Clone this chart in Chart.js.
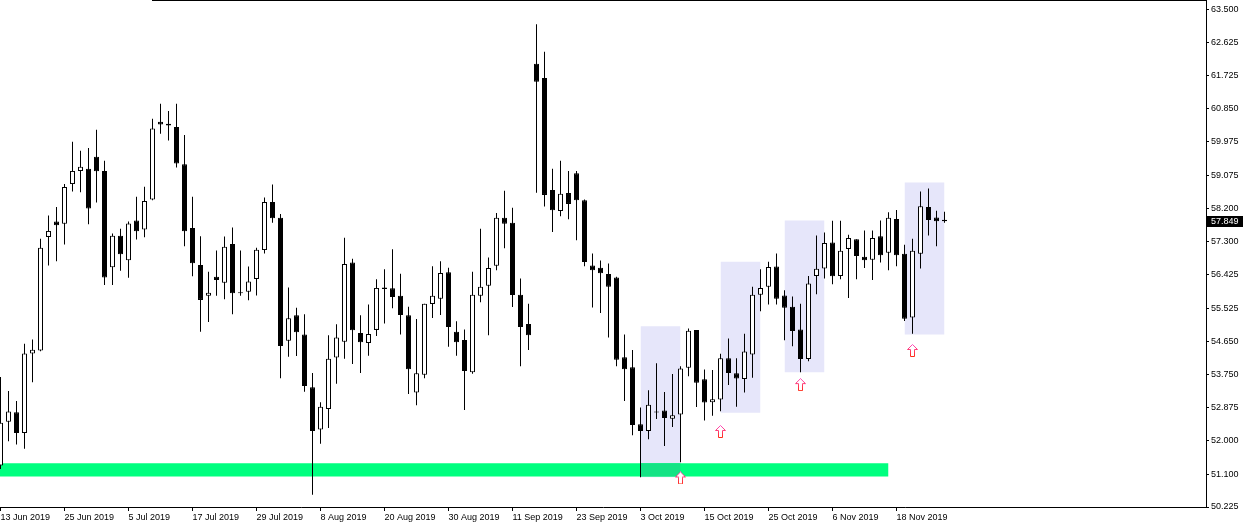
<!DOCTYPE html>
<html><head><meta charset="utf-8">
<script src="https://cdn.jsdelivr.net/npm/chart.js@4.4.1/dist/chart.umd.min.js"></script>
<style>html,body{margin:0;padding:0;background:#fff;overflow:hidden}#wrap{width:1249px;height:528px;position:relative}</style>
</head><body><div id="wrap"><canvas id="c" width="1249" height="528"></canvas></div>
<script>
// ---- daily OHLC ----
const open = [51.33,52.50,52.75,52.20,54.32,54.40,57.43,57.84,57.78,58.84,59.19,59.25,59.57,59.19,56.62,57.46,56.81,57.87,57.63,58.43,
60.50,60.45,60.36,59.37,57.67,56.68,55.86,56.37,56.21,57.24,55.955,55.97,56.31,57.08,58.36,57.94,54.66,55.34,54.83,53.42,
52.29,52.84,54.21,54.63,56.75,54.87,54.60,54.95,56.08,56.06,55.86,55.34,53.28,53.75,55.64,55.78,56.49,54.90,54.68,53.82,
55.86,56.13,56.66,57.94,57.81,55.89,55.11,62.05,61.67,58.68,58.12,58.60,59.13,58.41,56.67,56.61,56.44,56.35,54.22,53.95,
52.43,52.25,52.775,52.80,52.58,52.69,53.94,54.95,53.63,53.02,53.09,54.19,53.79,53.64,54.29,55.89,56.10,56.64,55.87,55.57,
54.96,54.17,56.39,56.59,57.28,56.39,57.11,57.37,56.90,56.82,57.45,57.01,57.91,56.98,55.28,56.98,58.23,57.95,57.89];
const high = [53.69,53.32,53.05,54.58,54.69,57.38,58.00,58.23,58.84,59.97,59.73,59.80,60.29,59.46,57.52,57.65,57.84,58.50,58.77,60.58,
60.98,60.79,60.98,60.15,58.50,57.45,56.50,57.07,57.44,57.68,57.07,56.64,57.14,58.48,58.83,58.04,56.08,55.54,55.37,53.80,
53.02,54.81,55.10,57.41,56.85,55.34,55.63,56.30,56.57,57.10,56.45,55.57,55.24,55.65,56.65,56.78,56.61,55.18,54.96,56.50,
57.65,56.88,58.07,58.66,58.21,56.32,55.65,63.10,62.37,59.25,59.46,59.19,59.19,58.43,56.99,56.80,56.72,56.37,54.83,54.41,
52.88,53.34,54.06,53.29,53.77,53.98,54.99,54.95,53.89,53.88,54.31,54.72,54.19,54.85,56.10,56.57,56.77,56.99,56.01,55.84,
55.65,56.39,57.47,57.55,57.86,57.86,57.49,57.37,57.60,57.60,57.87,58.09,58.15,57.22,57.38,58.64,58.72,58.13,58.10];
const low = [51.24,51.98,51.89,51.78,53.55,54.38,56.67,56.78,57.23,58.64,58.62,57.77,58.35,56.15,56.15,56.53,56.34,57.36,57.42,58.41,
60.18,60.00,59.28,57.18,56.38,54.90,55.16,55.86,55.77,55.37,55.86,55.74,55.87,56.99,57.81,53.66,54.23,54.25,53.30,50.55,
51.91,52.33,53.51,54.18,54.04,53.80,54.26,54.79,55.12,55.53,54.83,53.24,52.94,53.66,55.27,55.35,54.50,54.26,52.81,53.78,
55.69,54.81,56.54,57.13,55.56,53.98,54.41,58.61,58.24,57.56,57.98,57.90,57.34,56.65,55.55,55.40,54.75,53.98,53.05,52.14,
51.02,52.03,52.57,51.85,52.36,51.42,53.71,52.89,52.53,52.66,52.78,53.48,52.90,53.28,53.67,55.45,55.63,55.63,54.67,54.51,
53.82,54.11,55.90,56.32,56.17,56.30,55.80,56.30,56.60,56.28,56.75,56.54,56.65,55.19,54.85,56.59,57.47,57.18,57.81];
const close = [52.47,52.77,52.20,54.32,54.42,57.14,57.59,57.74,58.76,59.19,59.30,58.19,59.18,56.35,57.46,56.97,57.79,57.58,58.39,60.32,
60.43,60.40,59.39,57.58,56.73,55.75,55.94,56.28,57.17,55.93,55.925,56.24,57.09,58.36,57.93,54.52,55.26,54.89,53.45,52.25,
52.90,54.18,54.75,56.71,54.94,54.62,54.84,56.07,56.04,55.83,55.35,53.90,53.79,55.65,55.86,56.47,55.03,54.62,53.85,55.89,
56.10,56.60,57.94,57.78,55.88,55.03,54.81,61.57,58.55,58.14,58.58,58.31,58.41,56.76,56.54,56.46,56.10,54.15,53.90,52.41,
52.25,52.95,52.745,52.60,52.67,53.92,54.93,53.54,53.01,53.10,54.19,53.80,53.65,54.37,55.89,56.07,56.63,55.78,55.54,54.92,
54.17,56.19,56.58,57.27,56.38,57.06,57.40,56.92,56.81,57.40,56.94,57.94,56.94,55.25,57.06,58.25,57.88,57.85,57.849];

// ---- categories / tick labels ----
const firstDay = '2019-06-13';
const xTickLabels = ['13 Jun 2019','25 Jun 2019','5 Jul 2019','17 Jul 2019','29 Jul 2019','8 Aug 2019','20 Aug 2019',
  '30 Aug 2019','11 Sep 2019','23 Sep 2019','3 Oct 2019','15 Oct 2019','25 Oct 2019','6 Nov 2019','18 Nov 2019'];
const yTicks = [63.5,62.625,61.725,60.85,59.975,59.075,58.2,57.3,56.425,55.525,54.65,53.75,52.875,52.0,51.1,50.225];

// ---- drawn objects ----
const zoneStart = [80, 90, 98, 113];
const zoneEnd = [85, 95, 103, 118];
const zoneTop = [55.05, 56.77, 57.87, 58.88];
const zoneBottom = [51.02, 52.74, 53.82, 54.83];
const bandStart = -1, bandEnd = 111, bandTop = 51.39, bandBottom = 51.04;
const arrowAt = [85, 90, 100, 114];
const arrowPrice = [51.00, 52.24, 53.49, 54.40];

// trading days (weekdays) for the candles
const MONTHS = ['Jan','Feb','Mar','Apr','May','Jun','Jul','Aug','Sep','Oct','Nov','Dec'];
const dates = [];
{ let d = new Date(firstDay + 'T00:00:00Z');
  while (dates.length < open.length) {
    const wd = d.getUTCDay();
    if (wd !== 0 && wd !== 6) dates.push(d.getUTCDate() + ' ' + MONTHS[d.getUTCMonth()] + ' ' + d.getUTCFullYear());
    d = new Date(d.getTime() + 86400000);
  } }
const xTickIndex = xTickLabels.map(l => dates.indexOf(l));

const FONT = {family: 'Liberation Sans', size: 9};
const idx = open.map((_, i) => i);

function makeArrow() {
  const cv = document.createElement('canvas');
  cv.width = 11; cv.height = 13;
  const g = cv.getContext('2d');
  g.beginPath();
  g.moveTo(5.5, 0.5); g.lineTo(10.5, 5.5); g.lineTo(7.5, 5.5); g.lineTo(7.5, 12.5);
  g.lineTo(3.5, 12.5); g.lineTo(3.5, 5.5); g.lineTo(0.5, 5.5); g.closePath();
  g.fillStyle = '#fff'; g.fill();
  const gr = g.createLinearGradient(0, 0, 0, 13);
  gr.addColorStop(0, '#ff4fc8'); gr.addColorStop(1, '#ff2a10');
  g.strokeStyle = gr; g.lineWidth = 1; g.stroke();
  return cv;
}

function rectSet(x1, x2, top, bottom, color, order) {
  return {type: 'line', data: [{x: x1, y: top}, {x: x2, y: top}], fill: {value: bottom},
    backgroundColor: color, borderColor: 'rgba(0,0,0,0)', borderWidth: 0, pointRadius: 0, tension: 0, order};
}

const datasets = [];
zoneStart.forEach((s, k) => datasets.push(rectSet(s, zoneEnd[k], zoneTop[k], zoneBottom[k], '#E6E6FA', 10)));
datasets.push(rectSet(bandStart, bandEnd, bandTop, bandBottom, '#00FF7F', 9));
zoneStart.forEach((s, k) => {
  const x1 = Math.max(s, bandStart), x2 = Math.min(zoneEnd[k], bandEnd);
  const t = Math.min(zoneTop[k], bandTop), b = Math.max(zoneBottom[k], bandBottom);
  if (x2 > x1 && t > b) datasets.push(rectSet(x1, x2, t, b, '#14E384', 8));
});
datasets.push({type: 'bar', data: idx.map(i => ({x: i, y: [low[i], high[i]]})), backgroundColor: '#000',
  borderWidth: 0, barThickness: 1, grouped: false, inflateAmount: 0, order: 3});
datasets.push({type: 'bar', data: idx.map(i => ({x: i, y: [open[i], close[i]]})),
  backgroundColor: idx.map(i => close[i] >= open[i] ? '#ffffff' : '#000000'),
  borderColor: '#000', borderWidth: 1, borderSkipped: false, barThickness: 5, grouped: false, inflateAmount: 0, order: 2});
datasets.push({type: 'scatter', data: arrowAt.map((x, k) => ({x, y: arrowPrice[k]})), pointStyle: makeArrow(),
  pointRadius: 5, order: 0});

const frame = {
  id: 'frame',
  afterDraw(chart) {
    const c = chart.ctx, a = chart.chartArea;
    c.save();
    c.fillStyle = '#000';
    c.fillRect(152, 0, a.right - 152, 1);
    const last = close.length - 1;
    const y = chart.scales.y.getPixelForValue(close[last]);
    c.fillRect(a.right + 1, Math.round(y) - 5, 36, 11);
    c.fillStyle = '#fff';
    c.font = FONT.size + 'px "' + FONT.family + '"';
    c.textBaseline = 'middle';
    c.fillText(close[last].toFixed(3), a.right + 5, Math.round(y) + 0.5);
    c.restore();
  }
};

new Chart(document.getElementById('c'), {
  type: 'bar',
  data: {datasets},
  plugins: [frame],
  options: {
    responsive: false, animation: false, events: [],
    layout: {padding: 0, autoPadding: false},
    plugins: {legend: {display: false}, tooltip: {enabled: false}, title: {display: false}},
    scales: {
      x: {type: 'linear', position: 'bottom', min: -0.0625, max: 150.6875, offset: false, bounds: 'data',
        grid: {display: true, offset: false, drawOnChartArea: false, drawTicks: true, tickLength: 4, color: '#000', tickColor: '#000', lineWidth: 1},
        border: {display: true, color: '#000', width: 1},
        ticks: {autoSkip: false, maxRotation: 0, minRotation: 0, align: 'start', padding: 1, color: '#000', font: FONT,
          callback: (v) => { const k = xTickIndex.indexOf(v); return k >= 0 ? xTickLabels[k] : ''; }},
        afterBuildTicks: s => { s.ticks = xTickIndex.map(v => ({value: v})); },
        afterFit: s => { s.height = 21; s.paddingLeft = 0; s.paddingRight = 0; }
      },
      y: {type: 'linear', position: 'right', min: 50.225, max: 63.75, bounds: 'data',
        grid: {display: true, drawOnChartArea: false, drawTicks: true, tickLength: 3, color: '#000', tickColor: '#000', lineWidth: 1},
        border: {display: true, color: '#000', width: 1},
        ticks: {autoSkip: false, padding: 2, color: '#000', font: FONT, callback: v => Number(v).toFixed(3)},
        afterBuildTicks: s => { s.ticks = yTicks.map(v => ({value: v})); },
        afterFit: s => { s.width = 43; s.paddingTop = 0; s.paddingBottom = 0; }
      }
    }
  }
});
</script></body></html>
